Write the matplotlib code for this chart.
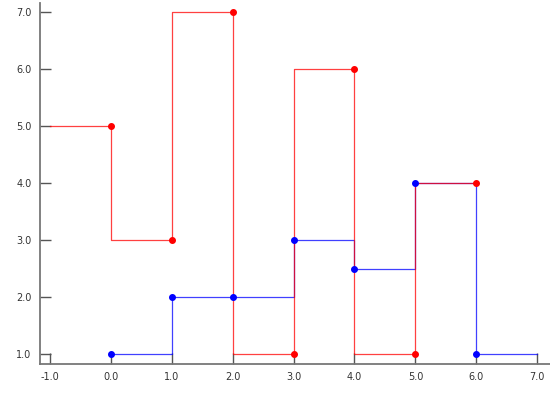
import matplotlib
matplotlib.use('Agg')
import matplotlib.pyplot as plt
from matplotlib.ticker import FormatStrFormatter

# donnees
x_vals = [0, 1, 2, 3, 4, 5, 6]
red_vals = [5, 3, 7, 1, 6, 1, 4]
blue_vals = [1, 2, 2, 3, 2.5, 4, 1]
red_start = -1.0   # la serie rouge commence a gauche
blue_end = 7.0     # la serie bleue se prolonge a droite

x_ticks = [-1, 0, 1, 2, 3, 4, 5, 6, 7]
y_ticks = [1, 2, 3, 4, 5, 6, 7]

fig = plt.figure(figsize=(5.5, 4), dpi=100)
ax = fig.add_axes([0.0727, 0.09, 0.9273, 0.9025])

# serie bleue : marche 'post', prolongee jusqu'a x = 7
ax.step(x_vals + [blue_end], blue_vals + [blue_vals[-1]], where='post',
        color='blue', lw=0.9, alpha=0.75, zorder=2)
ax.plot(x_vals, blue_vals, 'o', color='blue', ms=4, zorder=4)

# serie rouge : marche 'pre', partant de x = -1
ax.step([red_start] + x_vals, [red_vals[0]] + red_vals, where='pre',
        color='red', lw=0.9, alpha=0.75, zorder=3)
ax.plot(x_vals, red_vals, 'o', color='red', ms=4, zorder=5)

ax.set_xlim(-1.164, 7.21)
ax.set_ylim(0.825, 7.16)
ax.set_xticks(x_ticks)
ax.set_yticks(y_ticks)
ax.xaxis.set_major_formatter(FormatStrFormatter('%.1f'))
ax.yaxis.set_major_formatter(FormatStrFormatter('%.1f'))

for side in ['top', 'right']:
    ax.spines[side].set_visible(False)
for side in ['left', 'bottom']:
    ax.spines[side].set_color('#777777')
    ax.spines[side].set_linewidth(1.3)

ax.tick_params(direction='in', length=8, width=1, color='#555555',
               labelsize=7, labelcolor='#333333', pad=6)
ax.set_facecolor('white')

fig.savefig('out.png', dpi=100)
